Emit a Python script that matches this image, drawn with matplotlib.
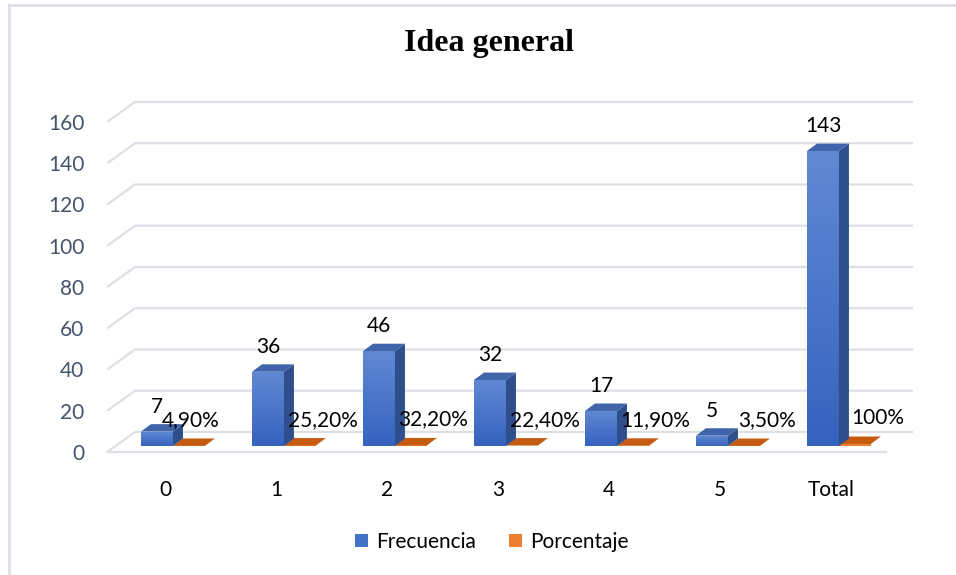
import numpy as np
import matplotlib.pyplot as plt
from matplotlib.patches import Polygon, Patch
from matplotlib.lines import Line2D
from matplotlib.colors import LinearSegmentedColormap

plt.rcParams['font.family'] = ['Lato', 'DejaVu Sans']

categorias = ['0', '1', '2', '3', '4', '5', 'Total']
frecuencia = [7, 36, 46, 32, 17, 5, 143]
porcentaje = [0.049, 0.252, 0.322, 0.224, 0.119, 0.035, 1.0]
etiq_pct = ['4,90%', '25,20%', '32,20%', '22,40%', '11,90%', '3,50%', '100%']
yticks = [0, 20, 40, 60, 80, 100, 120, 140, 160]

azul = '#4472C4'
azul_lado = '#2F4F8C'
azul_top = '#4064AA'
naranja = '#ED7D31'
naranja_top = '#C55A11'
gris = '#DCE0E6'

fig = plt.figure(figsize=(9.56, 5.75), dpi=100)
ax = fig.add_axes([0.1029, 0.196, 0.8708, 0.6457])
ax.set_xlim(-0.6, 6.9)
ax.set_ylim(-5, 175)

# 3d-ish walls: front/back offsets in data units
gx0, gx1, gx2, gdy = -0.52, -0.27, 6.74, 9.7
for v in yticks:
    ax.plot([gx0, gx1, gx2], [v, v + gdy, v + gdy], color=gris, lw=1.6,
            zorder=1, solid_capstyle='butt')
ax.plot([gx0, 6.5], [0, 0], color=gris, lw=1.6, zorder=1)

x = np.arange(len(categorias))
base = 2.9
ddx, ddy = 0.09, 3.6
w = 0.288

# blue bars with gradient front face
bars = ax.bar(x - 0.072, frecuencia, width=w, bottom=base, color=azul,
              zorder=3, linewidth=0)
grad = np.linspace(0, 1, 256).reshape(-1, 1)
cmap = LinearSegmentedColormap.from_list('g', ['#3562BF', '#6189D3'])
for b in bars:
    x0, y0 = b.get_x(), b.get_y()
    im = ax.imshow(grad, cmap=cmap, origin='lower', aspect='auto',
                   extent=[x0, x0 + b.get_width(), y0, y0 + b.get_height()],
                   zorder=3.1)
    im.set_clip_path(b)

for i, v in enumerate(frecuencia):
    x0 = x[i] - 0.216
    x1 = x0 + w
    t = base + v
    ax.add_patch(Polygon([(x1, base), (x1 + ddx, base + ddy), (x1 + ddx, t + ddy), (x1, t)],
                         closed=True, color=azul_lado, zorder=3.2, lw=0))
    ax.add_patch(Polygon([(x0, t), (x0 + ddx, t + ddy), (x1 + ddx, t + ddy), (x1, t)],
                         closed=True, color=azul_top, zorder=3.2, lw=0))
    ax.text(x0 + w / 2, t + 12, str(v), ha='center', va='center',
            fontsize=15, color='black', zorder=5)

# orange bars (flat)
for i, v in enumerate(porcentaje):
    x0 = x[i] + 0.072
    x1 = x0 + w
    t = base + v
    ax.add_patch(Polygon([(x0, base), (x1, base), (x1, t), (x0, t)],
                         closed=True, color=naranja, zorder=3, lw=0))
    ax.add_patch(Polygon([(x0, t), (x0 + ddx, t + ddy), (x1 + ddx, t + ddy), (x1, t)],
                         closed=True, color=naranja_top, zorder=3, lw=0))
    dx = 0.23 if i == 0 else 0.42
    ax.text(x[i] + dx, t + 12.5, etiq_pct[i], ha='center', va='center',
            fontsize=15, color='black', zorder=5)

ax.set_xticks(x)
ax.set_xticklabels(categorias)
ax.set_yticks(yticks)
ax.tick_params(axis='x', length=0, pad=13, labelsize=15, labelcolor='black')
ax.tick_params(axis='y', length=0, pad=10, labelsize=15, labelcolor='#44546A')
for s in ax.spines.values():
    s.set_visible(False)

fig.text(489 / 956, 1 - 44 / 575, 'Idea general', ha='center', va='center',
         fontsize=23, fontweight='bold', family='Liberation Serif')

handles = [Patch(facecolor=azul, label='Frecuencia'),
           Patch(facecolor=naranja, label='Porcentaje')]
fig.legend(handles=handles, loc='center', bbox_to_anchor=(492 / 956, 1 - 542 / 575),
           ncol=2, frameon=False, fontsize=15, handlelength=0.6, handleheight=0.6,
           handletextpad=0.4, columnspacing=1.6)

# chart frame (top and left edges visible)
fig.add_artist(Line2D([9 / 956, 1], [1 - 4.5 / 575, 1 - 4.5 / 575], color=gris, lw=2))
fig.add_artist(Line2D([9 / 956, 9 / 956], [0, 1 - 4.5 / 575], color=gris, lw=2))

fig.savefig('out.png', dpi=100)
